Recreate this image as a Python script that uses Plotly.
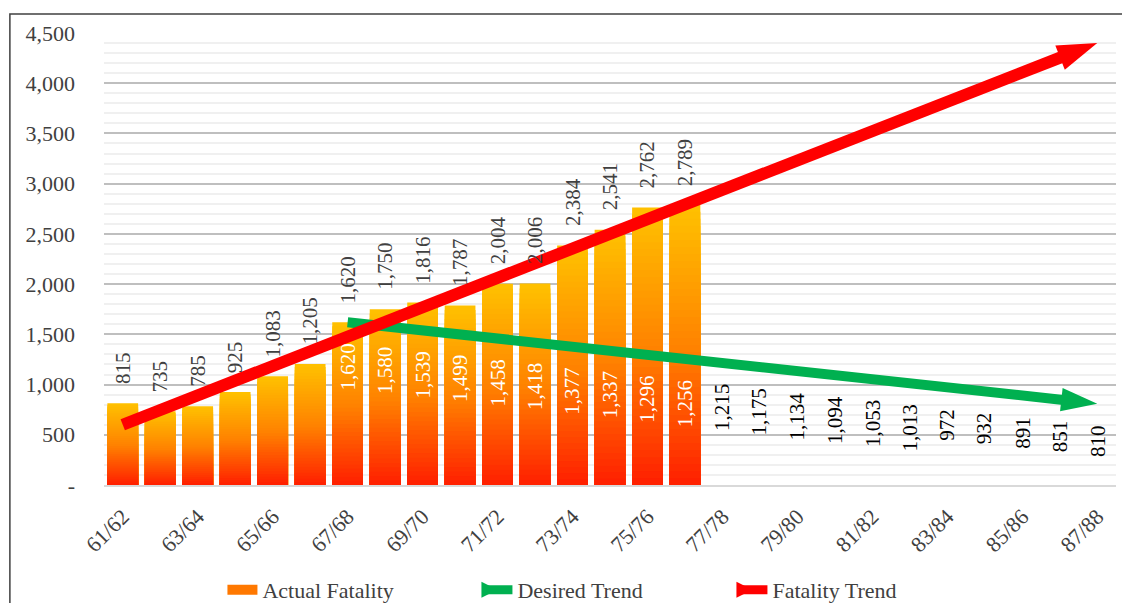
import plotly.graph_objects as go

categories = [f"{y}/{y+1}" for y in range(61, 88)]
actual_cats = categories[:16]
actual_fatality = [815, 735, 785, 925, 1083, 1205, 1620, 1750, 1816, 1787,
                   2004, 2006, 2384, 2541, 2762, 2789]
desired_cats = categories[6:]
desired_trend = [1620, 1580, 1539, 1499, 1458, 1418, 1377, 1337, 1296, 1256,
                 1215, 1175, 1134, 1094, 1053, 1013, 972, 932, 891, 851, 810]
fatality_trend_cats = [categories[0], categories[-1]]
fatality_trend = [600, 4400]
y_tickvals = [0, 500, 1000, 1500, 2000, 2500, 3000, 3500, 4000, 4500]
y_ticktext = ["-", "500", "1,000", "1,500", "2,000", "2,500", "3,000", "3,500", "4,000", "4,500"]
x_tickvals = categories[::2]

FONT = "Liberation Serif"
FS = 21
TFS = 22

def lerp(c1, c2, t):
    return tuple(round(a + (b - a) * t) for a, b in zip(c1, c2))

def grad(t):
    red, orange, gold = (255, 28, 0), (255, 130, 0), (255, 192, 0)
    if t < 0.5:
        c = lerp(red, orange, t / 0.5)
    else:
        c = lerp(orange, gold, (t - 0.5) / 0.5)
    return "rgb(%d,%d,%d)" % c

fig = go.Figure()

N = 40
for k in range(N):
    frac = (N - k) / N
    fig.add_trace(go.Bar(
        x=actual_cats, y=[v * frac for v in actual_fatality],
        marker=dict(color=grad(frac), line=dict(width=0)),
        showlegend=False, hoverinfo="skip",
    ))

fig.add_trace(go.Scatter(
    x=desired_cats, y=desired_trend, mode="lines+markers",
    line=dict(color="#00B050", width=10),
    marker=dict(symbol="arrow", angleref="previous", color="#00B050", opacity=1,
                line=dict(width=0),
                size=[0] * (len(desired_trend) - 1) + [38]),
    showlegend=False, hoverinfo="skip",
))
fig.add_trace(go.Scatter(
    x=fatality_trend_cats, y=fatality_trend, mode="lines+markers",
    line=dict(color="#FF0000", width=12),
    marker=dict(symbol="arrow", angleref="previous", color="#FF0000", opacity=1,
                line=dict(width=0), size=[0, 42]),
    showlegend=False, hoverinfo="skip",
))

# legend entries
fig.add_trace(go.Scatter(x=[None], y=[None], name="Actual Fatality", mode="lines",
                         line=dict(color="rgb(255,120,0)", width=14)))
fig.add_trace(go.Scatter(x=[None], y=[None], name="Desired Trend", mode="lines+markers",
                         line=dict(color="#00B050", width=9),
                         marker=dict(symbol="arrow-right", color="#00B050", size=24,
                                     line=dict(width=0))))
fig.add_trace(go.Scatter(x=[None], y=[None], name="Fatality Trend", mode="lines+markers",
                         line=dict(color="#FF0000", width=9),
                         marker=dict(symbol="arrow-right", color="#FF0000", size=24,
                                     line=dict(width=0))))

annotations = []
for c, v in zip(actual_cats, actual_fatality):
    annotations.append(dict(x=c, y=v, text=f"{v:,}", textangle=-90, showarrow=False,
                            xanchor="center", yanchor="bottom", yshift=17,
                            font=dict(family=FONT, size=FS, color="#404040")))
for c, v in zip(desired_cats, desired_trend):
    inside = c in actual_cats
    annotations.append(dict(x=c, y=v, text=f"{v:,}", textangle=-90, showarrow=False,
                            xanchor="center", yanchor="top", yshift=-19,
                            font=dict(family=FONT, size=FS,
                                      color="#FFFFFF" if inside else "#000000")))

fig.update_layout(
    width=1122, height=603,
    margin=dict(l=104, r=6, t=33, b=118, autoexpand=False),
    paper_bgcolor="white", plot_bgcolor="white",
    barmode="overlay", bargap=0.18,
    font=dict(family=FONT, size=FS, color="#404040"),
    annotations=annotations,
    legend=dict(orientation="h", x=0.495, xanchor="center", y=-0.232, yanchor="middle",
                entrywidth=210, entrywidthmode="pixels",
                font=dict(family=FONT, size=TFS, color="#404040")),
    shapes=[dict(type="rect", xref="paper", yref="paper", x0=-0.093, x1=1.02,
                 y0=-0.35, y1=1.042, line=dict(color="#404040", width=1.5),
                 fillcolor="rgba(0,0,0,0)", layer="below")],
)
fig.update_xaxes(
    type="category", categoryorder="array", categoryarray=categories,
    range=[-0.5, len(categories) - 0.5], automargin=False,
    tickmode="array", tickvals=x_tickvals, tickangle=-45,
    showgrid=False, showline=True, linecolor="#D9D9D9", linewidth=2,
    ticks="", ticklabelstandoff=8,
    tickfont=dict(family=FONT, size=TFS, color="#404040"),
)
fig.update_yaxes(
    range=[0, 4500], tickmode="array", tickvals=y_tickvals, ticktext=y_ticktext,
    automargin=False,
    showgrid=True, gridcolor="#BFBFBF", gridwidth=1.5, zeroline=False,
    minor=dict(dtick=100, showgrid=True, gridcolor="#F0F0F0", gridwidth=2),
    ticks="", ticklabelstandoff=28,
    tickfont=dict(family=FONT, size=TFS, color="#404040"),
)

fig.write_html("out.html")
